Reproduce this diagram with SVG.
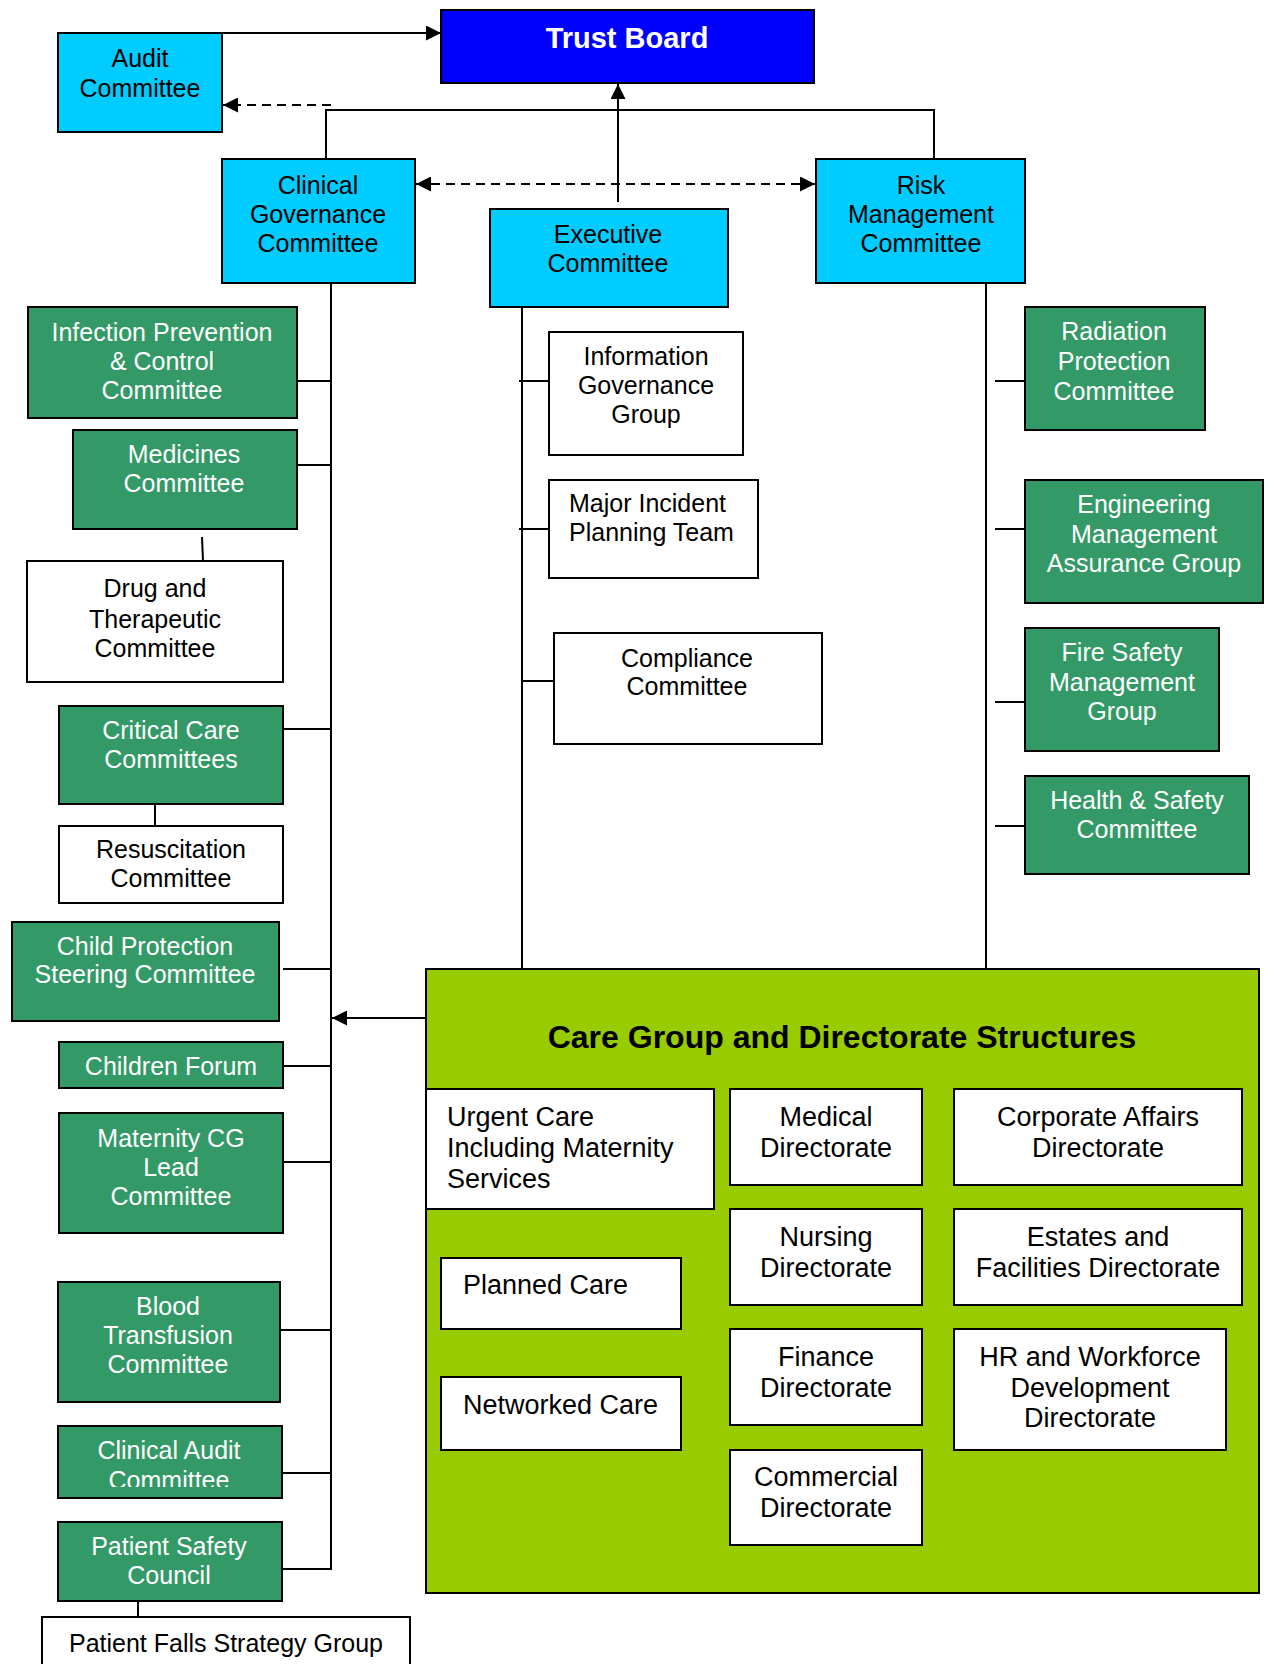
<svg xmlns="http://www.w3.org/2000/svg" width="1265" height="1664" viewBox="0 0 1265 1664">
<style>
.b{stroke:#000;stroke-width:2}
.cy{fill:#00CCFF}
.gr{fill:#339966}
.wh{fill:#FFFFFF}
.t{font-family:"Liberation Sans",Arial,sans-serif;font-size:25px;text-anchor:middle;fill:#000}
.w{fill:#FFFFFF}
.s{font-size:27px}
.l{text-anchor:start}
.c{fill:none;stroke:#000;stroke-width:2}
.d{stroke-dasharray:9,6}
</style>
<defs>
<marker id="ah" markerUnits="userSpaceOnUse" markerWidth="15" markerHeight="15" refX="15" refY="7.5" orient="auto-start-reverse">
<path d="M0,0 L15,7.5 L0,15 z" fill="#000"/>
</marker>
<clipPath id="clipAudit"><rect x="58" y="1426" width="224" height="61"/></clipPath>
</defs>
<rect width="1265" height="1664" fill="#FFFFFF"/>

<g id="care-group">
<rect class="b" x="426" y="969" width="833" height="624" fill="#99CC00"/>
<text class="t" x="842" y="1048" style="font-size:32px;font-weight:bold">Care Group and Directorate Structures</text>
</g>

<g id="connectors">
<path class="c" d="M222,33 H441" marker-end="url(#ah)"/>
<path class="c d" d="M331,105 H223" marker-end="url(#ah)"/>
<path class="c" d="M326,159 V110 H934 V159"/>
<path class="c" d="M618,202 V84" marker-end="url(#ah)"/>
<path class="c d" d="M416,184 H815" marker-start="url(#ah)" marker-end="url(#ah)"/>
<path class="c" d="M331,273 V1569 H282"/>
<path class="c" d="M297,381 H330"/>
<path class="c" d="M297,465 H331"/>
<path class="c" d="M202,537 L203,561"/>
<path class="c" d="M283,729 H331"/>
<path class="c" d="M155,804 V826"/>
<path class="c" d="M283,969 H331"/>
<path class="c" d="M283,1066 H331"/>
<path class="c" d="M283,1162 H331"/>
<path class="c" d="M280,1330 H331"/>
<path class="c" d="M282,1473 H331"/>
<path class="c" d="M138,1593 V1617"/>
<path class="c" d="M426,1018 H332" marker-end="url(#ah)"/>
<path class="c" d="M522,297 V969"/>
<path class="c" d="M519,381 H549"/>
<path class="c" d="M519,529 H549"/>
<path class="c" d="M522,681 H554"/>
<path class="c" d="M986,273 V969"/>
<path class="c" d="M995,381 H1025"/>
<path class="c" d="M995,529 H1025"/>
<path class="c" d="M995,702 H1025"/>
<path class="c" d="M995,826 H1025"/>
</g>

<g id="trust-board">
<rect class="b" x="441" y="10" width="373" height="73" fill="#0000FF"/>
<text class="t w" x="627" y="48" style="font-size:29px;font-weight:bold">Trust Board</text>
</g>
<g id="audit-committee">
<rect class="b cy" x="58" y="33" width="164" height="99"/>
<text class="t" x="140" y="67">Audit</text>
<text class="t" x="140" y="97">Committee</text>
</g>
<g id="clinical-governance">
<rect class="b cy" x="222" y="159" width="193" height="124"/>
<text class="t" x="318" y="194">Clinical</text>
<text class="t" x="318" y="223">Governance</text>
<text class="t" x="318" y="252">Committee</text>
</g>
<g id="executive-committee">
<rect class="b cy" x="490" y="209" width="238" height="98"/>
<text class="t" x="608" y="243">Executive</text>
<text class="t" x="608" y="272">Committee</text>
</g>
<g id="risk-management">
<rect class="b cy" x="816" y="159" width="209" height="124"/>
<text class="t" x="921" y="194">Risk</text>
<text class="t" x="921" y="223">Management</text>
<text class="t" x="921" y="252">Committee</text>
</g>

<g id="infection-prevention">
<rect class="b gr" x="28" y="307" width="269" height="111"/>
<text class="t w" x="162" y="341">Infection Prevention</text>
<text class="t w" x="162" y="370">&amp; Control</text>
<text class="t w" x="162" y="399">Committee</text>
</g>
<g id="medicines">
<rect class="b gr" x="73" y="430" width="224" height="99"/>
<text class="t w" x="184" y="463">Medicines</text>
<text class="t w" x="184" y="492">Committee</text>
</g>
<g id="drug-therapeutic">
<rect class="b wh" x="27" y="561" width="256" height="121"/>
<text class="t" x="155" y="597">Drug and</text>
<text class="t" x="155" y="628">Therapeutic</text>
<text class="t" x="155" y="657">Committee</text>
</g>
<g id="critical-care">
<rect class="b gr" x="59" y="706" width="224" height="98"/>
<text class="t w" x="171" y="739">Critical Care</text>
<text class="t w" x="171" y="768">Committees</text>
</g>
<g id="resuscitation">
<rect class="b wh" x="59" y="826" width="224" height="77"/>
<text class="t" x="171" y="858">Resuscitation</text>
<text class="t" x="171" y="887">Committee</text>
</g>
<g id="child-protection">
<rect class="b gr" x="12" y="922" width="267" height="99"/>
<text class="t w" x="145" y="955">Child Protection</text>
<text class="t w" x="145" y="983">Steering Committee</text>
</g>
<g id="children-forum">
<rect class="b gr" x="59" y="1042" width="224" height="46"/>
<text class="t w" x="171" y="1075">Children Forum</text>
</g>
<g id="maternity">
<rect class="b gr" x="59" y="1113" width="224" height="120"/>
<text class="t w" x="171" y="1147">Maternity CG</text>
<text class="t w" x="171" y="1176">Lead</text>
<text class="t w" x="171" y="1205">Committee</text>
</g>
<g id="blood-transfusion">
<rect class="b gr" x="58" y="1282" width="222" height="120"/>
<text class="t w" x="168" y="1315">Blood</text>
<text class="t w" x="168" y="1344">Transfusion</text>
<text class="t w" x="168" y="1373">Committee</text>
</g>
<g id="clinical-audit">
<rect class="b gr" x="58" y="1426" width="224" height="72"/>
<g clip-path="url(#clipAudit)">
<text class="t w" x="169" y="1459">Clinical Audit</text>
<text class="t w" x="169" y="1489">Committee</text>
</g>
</g>
<g id="patient-safety">
<rect class="b gr" x="58" y="1522" width="224" height="79"/>
<text class="t w" x="169" y="1555">Patient Safety</text>
<text class="t w" x="169" y="1584">Council</text>
</g>
<g id="patient-falls">
<rect class="b wh" x="42" y="1617" width="368" height="60"/>
<text class="t" x="226" y="1652">Patient Falls Strategy Group</text>
</g>

<g id="information-governance">
<rect class="b wh" x="549" y="332" width="194" height="123"/>
<text class="t" x="646" y="365">Information</text>
<text class="t" x="646" y="394">Governance</text>
<text class="t" x="646" y="423">Group</text>
</g>
<g id="major-incident">
<rect class="b wh" x="549" y="480" width="209" height="98"/>
<text class="t l" x="569" y="512">Major Incident</text>
<text class="t l" x="569" y="541">Planning Team</text>
</g>
<g id="compliance">
<rect class="b wh" x="554" y="633" width="268" height="111"/>
<text class="t" x="687" y="667">Compliance</text>
<text class="t" x="687" y="695">Committee</text>
</g>

<g id="radiation-protection">
<rect class="b gr" x="1025" y="307" width="180" height="123"/>
<text class="t w" x="1114" y="340">Radiation</text>
<text class="t w" x="1114" y="370">Protection</text>
<text class="t w" x="1114" y="400">Committee</text>
</g>
<g id="engineering">
<rect class="b gr" x="1025" y="480" width="238" height="123"/>
<text class="t w" x="1144" y="513">Engineering</text>
<text class="t w" x="1144" y="543">Management</text>
<text class="t w" x="1144" y="572">Assurance Group</text>
</g>
<g id="fire-safety">
<rect class="b gr" x="1025" y="628" width="194" height="123"/>
<text class="t w" x="1122" y="661">Fire Safety</text>
<text class="t w" x="1122" y="691">Management</text>
<text class="t w" x="1122" y="720">Group</text>
</g>
<g id="health-safety">
<rect class="b gr" x="1025" y="776" width="224" height="98"/>
<text class="t w" x="1137" y="809">Health &amp; Safety</text>
<text class="t w" x="1137" y="838">Committee</text>
</g>

<g id="urgent-care">
<rect class="b wh" x="426" y="1089" width="288" height="120"/>
<text class="t s l" x="447" y="1126">Urgent Care</text>
<text class="t s l" x="447" y="1157">Including Maternity</text>
<text class="t s l" x="447" y="1188">Services</text>
</g>
<g id="medical-directorate">
<rect class="b wh" x="730" y="1089" width="192" height="96"/>
<text class="t s" x="826" y="1126">Medical</text>
<text class="t s" x="826" y="1157">Directorate</text>
</g>
<g id="corporate-affairs">
<rect class="b wh" x="954" y="1089" width="288" height="96"/>
<text class="t s" x="1098" y="1126">Corporate Affairs</text>
<text class="t s" x="1098" y="1157">Directorate</text>
</g>
<g id="nursing-directorate">
<rect class="b wh" x="730" y="1209" width="192" height="96"/>
<text class="t s" x="826" y="1246">Nursing</text>
<text class="t s" x="826" y="1277">Directorate</text>
</g>
<g id="estates-facilities">
<rect class="b wh" x="954" y="1209" width="288" height="96"/>
<text class="t s" x="1098" y="1246">Estates and</text>
<text class="t s" x="1098" y="1277">Facilities Directorate</text>
</g>
<g id="planned-care">
<rect class="b wh" x="441" y="1258" width="240" height="71"/>
<text class="t s l" x="463" y="1294">Planned Care</text>
</g>
<g id="finance-directorate">
<rect class="b wh" x="730" y="1329" width="192" height="96"/>
<text class="t s" x="826" y="1366">Finance</text>
<text class="t s" x="826" y="1397">Directorate</text>
</g>
<g id="hr-workforce">
<rect class="b wh" x="954" y="1329" width="272" height="121"/>
<text class="t s" x="1090" y="1366">HR and Workforce</text>
<text class="t s" x="1090" y="1397">Development</text>
<text class="t s" x="1090" y="1427">Directorate</text>
</g>
<g id="networked-care">
<rect class="b wh" x="441" y="1377" width="240" height="73"/>
<text class="t s l" x="463" y="1414">Networked Care</text>
</g>
<g id="commercial-directorate">
<rect class="b wh" x="730" y="1450" width="192" height="95"/>
<text class="t s" x="826" y="1486">Commercial</text>
<text class="t s" x="826" y="1517">Directorate</text>
</g>
</svg>
